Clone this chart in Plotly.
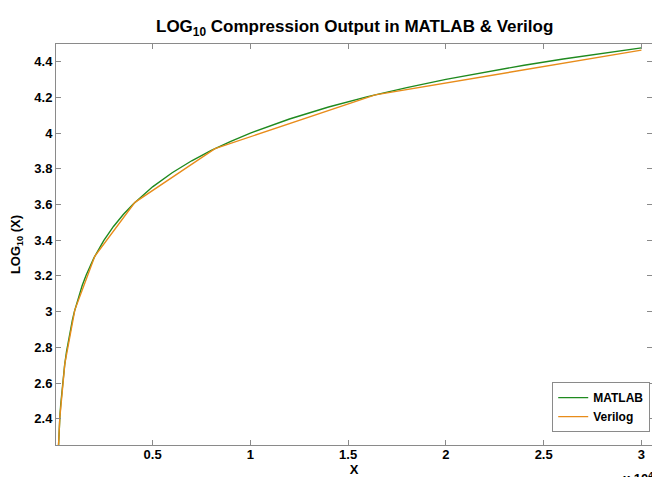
import plotly.graph_objects as go

# MATLAB log10 curve
matlab_x = [128, 150, 180, 200, 230, 260, 300, 350, 400, 500, 600, 700, 800, 900,
            1000, 1200, 1400, 1600, 1800, 2000, 2500, 3000, 3500, 4000, 5000, 6000,
            7000, 8000, 9000, 10000, 12000, 14000, 16000, 18000, 20000, 22000,
            24000, 26000, 28000, 30000]
matlab_y = [2.107, 2.176, 2.255, 2.301, 2.362, 2.415, 2.477, 2.544, 2.602, 2.699,
            2.778, 2.845, 2.903, 2.954, 3.000, 3.079, 3.146, 3.204, 3.255, 3.301,
            3.398, 3.477, 3.544, 3.602, 3.699, 3.778, 3.845, 3.903, 3.954, 4.000,
            4.079, 4.146, 4.204, 4.255, 4.301, 4.342, 4.380, 4.415, 4.447, 4.477]

# Verilog piecewise-linear approximation (knots)
verilog_x = [128, 256, 512, 1024, 2048, 4096, 8192, 16384, 30000]
verilog_y = [2.107, 2.408, 2.709, 3.010, 3.311, 3.612, 3.913, 4.214, 4.465]

x_tickvals = [5000, 10000, 15000, 20000, 25000, 30000]
x_ticktext = ["0.5", "1", "1.5", "2", "2.5", "3"]
y_tickvals = [2.4, 2.6, 2.8, 3.0, 3.2, 3.4, 3.6, 3.8, 4.0, 4.2, 4.4]
y_ticktext = ["2.4", "2.6", "2.8", "3", "3.2", "3.4", "3.6", "3.8", "4", "4.2", "4.4"]

FONT = "Liberation Sans, Arial, Helvetica, sans-serif"
AX = "#8a8a8a"

fig = go.Figure()
fig.add_trace(go.Scatter(x=matlab_x, y=matlab_y, mode="lines", name="MATLAB",
                         line=dict(color="#1f8a1f", width=1.4)))
fig.add_trace(go.Scatter(x=verilog_x, y=verilog_y, mode="lines", name="Verilog",
                         line=dict(color="#e88c1a", width=1.4)))

fig.update_layout(
    width=652, height=477,
    margin=dict(l=56, r=0, t=44, b=32, autoexpand=False),
    paper_bgcolor="white", plot_bgcolor="white",
    font=dict(family=FONT, size=13, color="black", weight="bold"),
    title=dict(text="LOG<sub>10</sub> Compression Output in MATLAB & Verilog",
               x=0.544, xanchor="center", y=0.945, yanchor="middle",
               font=dict(family=FONT, size=17, color="black", weight="bold")),
    showlegend=True,
    legend=dict(x=0.997, xanchor="right", y=0.032, yanchor="bottom",
                bgcolor="white", bordercolor=AX, borderwidth=1,
                font=dict(family=FONT, size=12, color="black", weight="bold"),
                tracegroupgap=0, itemwidth=30),
)

fig.update_xaxes(range=[60, 30540], tickvals=x_tickvals, ticktext=x_ticktext,
                 ticks="inside", ticklen=5, tickcolor=AX, showline=True,
                 linecolor=AX, linewidth=1, mirror="ticks", showgrid=False,
                 zeroline=False, automargin=False, ticklabelstandoff=-3,
                 tickfont=dict(family=FONT, size=13, weight="bold"),
                 title=dict(text="X", standoff=0,
                            font=dict(family=FONT, size=13, weight="bold")))
fig.update_yaxes(range=[2.253, 4.499], tickvals=y_tickvals, ticktext=y_ticktext,
                 ticks="inside", ticklen=5, tickcolor=AX, showline=True,
                 linecolor=AX, linewidth=1, mirror="ticks", showgrid=False,
                 zeroline=False, automargin=False,
                 tickfont=dict(family=FONT, size=13, weight="bold"),
                 title=dict(text="LOG<sub>10</sub> (X)", standoff=10,
                            font=dict(family=FONT, size=13, weight="bold")))

fig.add_annotation(text="x 10<sup>4</sup>", xref="paper", yref="paper",
                   x=0.948, y=-0.058, xanchor="left", yanchor="top",
                   showarrow=False,
                   font=dict(family=FONT, size=13, color="black", weight="bold"))

fig.write_html("out.html", config={"displayModeBar": False},
               post_script="document.body.style.margin='0px';document.body.style.overflow='hidden';")
